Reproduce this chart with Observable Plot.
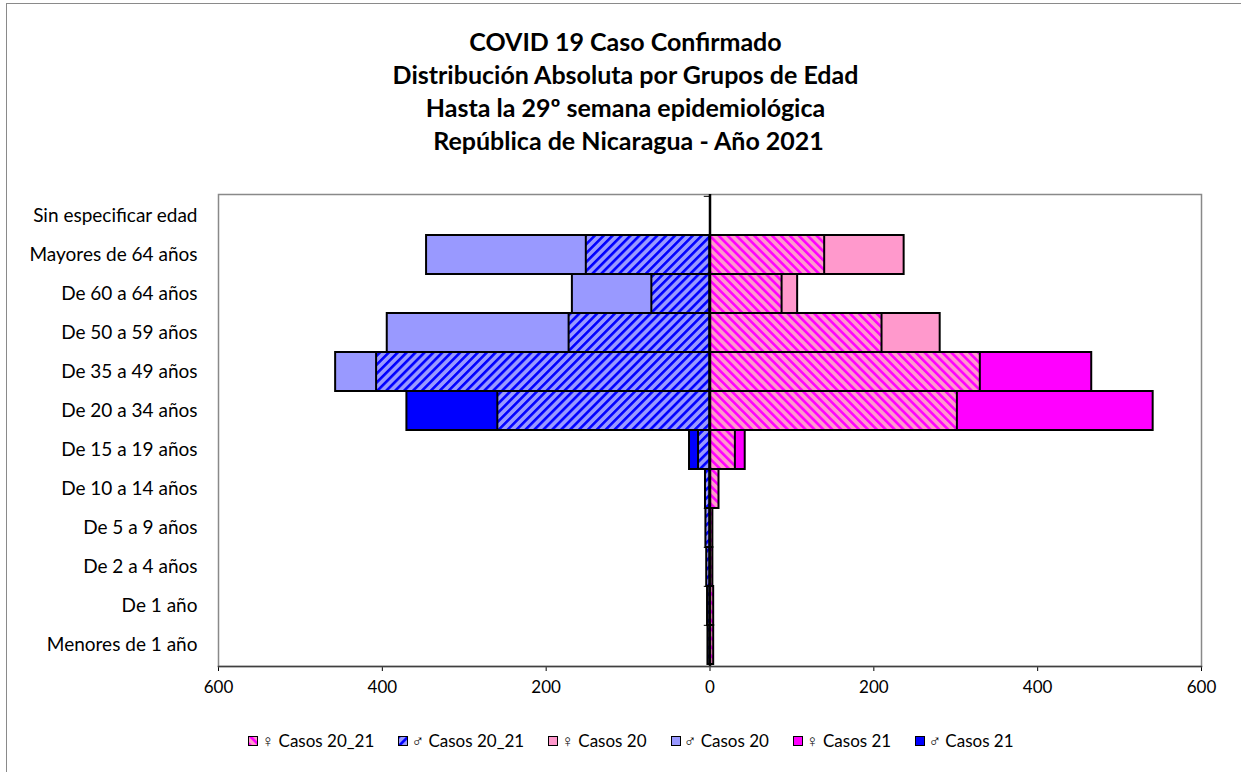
<!DOCTYPE html>
<html><head><meta charset="utf-8">
<script src="https://cdn.jsdelivr.net/npm/d3@7"></script>
<script src="https://cdn.jsdelivr.net/npm/@observablehq/plot@0.6"></script>
<style>
body{margin:0;background:#fff;font-family:Lato,"Open Sans",sans-serif;}
#wrap{position:relative;width:1241px;height:772px;overflow:hidden;background:#fff;}
#border{position:absolute;left:6px;top:3px;width:1300px;height:900px;border:1.5px solid #8a8a8a;}
#title{position:absolute;left:0;width:1251px;top:25px;text-align:center;font-weight:bold;font-size:25px;line-height:33px;color:#000;}
#chart{position:absolute;left:0;top:0;}
#legend{position:absolute;top:730px;left:0;width:1262px;display:flex;justify-content:center;gap:24px;font-size:17px;color:#000;}
#legend .it{display:flex;align-items:center;gap:3px;white-space:nowrap;}
</style>
</head><body>
<svg width="0" height="0" style="position:absolute">
<defs>
<pattern id="hM" patternUnits="userSpaceOnUse" width="6.3" height="6.3" patternTransform="rotate(45)">
<rect width="6.3" height="6.3" fill="#9999FF"/><rect width="2.6" height="6.3" fill="#0000FF"/>
</pattern>
<pattern id="hF" patternUnits="userSpaceOnUse" width="6.3" height="6.3" patternTransform="rotate(-45)">
<rect width="6.3" height="6.3" fill="#FF99CC"/><rect width="2.6" height="6.3" fill="#FF00FF"/>
</pattern>
</defs>
</svg>
<div id="wrap">
<div id="border"></div>
<div id="title">COVID 19 Caso Confirmado<br>Distribución Absoluta por Grupos de Edad<br>Hasta la 29º semana epidemiológica<br>&nbsp;República de Nicaragua - Año 2021</div>
<div id="chart"></div>
<div id="legend"></div>
</div>
<script>
const categories = ["Sin especificar edad","Mayores de 64 años","De 60 a 64 años","De 50 a 59 años","De 35 a 49 años","De 20 a 34 años","De 15 a 19 años","De 10 a 14 años","De 5 a 9 años","De 2 a 4 años","De 1 año","Menores de 1 año"];
// values; null = hidden behind another bar
const femCasos20_21 = [0, 140, 88, 210, 330, 302, 31, 11, 3.5, 3.5, 4.5, 4.5];
const malCasos20_21 = [0, 151, 71, 172, 407, 259, 14, 5.5, 5, 4, 3, 2.5];
const femCasos20 = [0, 237, 107, 281, null, null, null, null, null, null, null, null];
const malCasos20 = [0, 346, 168, 394, 457, null, null, null, null, null, null, null];
const femCasos21 = [0, null, null, null, 466, 541, 43, null, null, null, null, null];
const malCasos21 = [0, null, null, null, null, 370, 25, null, null, null, null, null];
const xTicks = [-600, -400, -200, 0, 200, 400, 600];
const legendLabels = ["♀ Casos 20_21","♂ Casos 20_21","♀ Casos 20","♂ Casos 20","♀ Casos 21","♂ Casos 21"];
const colors = {f20_21:"url(#hF)", m20_21:"url(#hM)", f20:"#FF99CC", m20:"#9999FF", f21:"#FF00FF", m21:"#0000FF"};

function rows(arr, sign){
  return categories.map((c,i)=>({cat:c, v: arr[i]==null? null : sign*arr[i]})).filter(d=>d.v!=null && d.v!==0);
}
const band = (666-194)/12;
const bar = (data, fill) => Plot.barX(data, {x1:0, x2:"v", y:"cat", fill, stroke:"#000", strokeWidth:2, insetTop:0, insetBottom:0});

const plot = Plot.plot({
  width:1241, height:772,
  marginTop:194, marginBottom:106, marginLeft:218, marginRight:40,
  style:{fontFamily:"Lato, 'Open Sans', sans-serif", fontSize:"17px", color:"#000", background:"transparent", overflow:"visible"},
  x:{domain:[-600,600], ticks:xTicks, tickFormat:d=>Math.abs(d), tickSize:5, tickPadding:9, label:null},
  y:{domain:categories, padding:0, label:null, tickSize:0, tickPadding:21},
  marks:[
    Plot.frame({stroke:"#898989", strokeWidth:1.5}),
    bar(rows(malCasos20,-1), colors.m20),
    bar(rows(femCasos20, 1), colors.f20),
    bar(rows(malCasos21,-1), colors.m21),
    bar(rows(femCasos21, 1), colors.f21),
    bar(rows(malCasos20_21,-1), colors.m20_21),
    bar(rows(femCasos20_21, 1), colors.f20_21),
    Plot.ruleY(categories, {y:d=>d, x1:-7, x2:0, dy:-band/2, stroke:"#000", strokeWidth:1}),
    Plot.ruleX([0], {stroke:"#000", strokeWidth:2.5}),
    Plot.frame({anchor:"bottom", stroke:"#404040", strokeWidth:1.5})
  ]
});
d3.select(plot).selectAll('g[aria-label="y-axis tick label"] text').style("font-size","19px");
document.getElementById("chart").appendChild(plot);

const lg = document.getElementById("legend");
const fills = [colors.f20_21, colors.m20_21, colors.f20, colors.m20, colors.f21, colors.m21];
legendLabels.forEach((t,i)=>{
  const it = document.createElement("div"); it.className="it";
  it.innerHTML = `<svg width="10" height="10"><rect x="0.5" y="0.5" width="9" height="9" fill="${fills[i]}" stroke="#000" stroke-width="1"/></svg><span>${t}</span>`;
  lg.appendChild(it);
});
</script>
</body></html>
